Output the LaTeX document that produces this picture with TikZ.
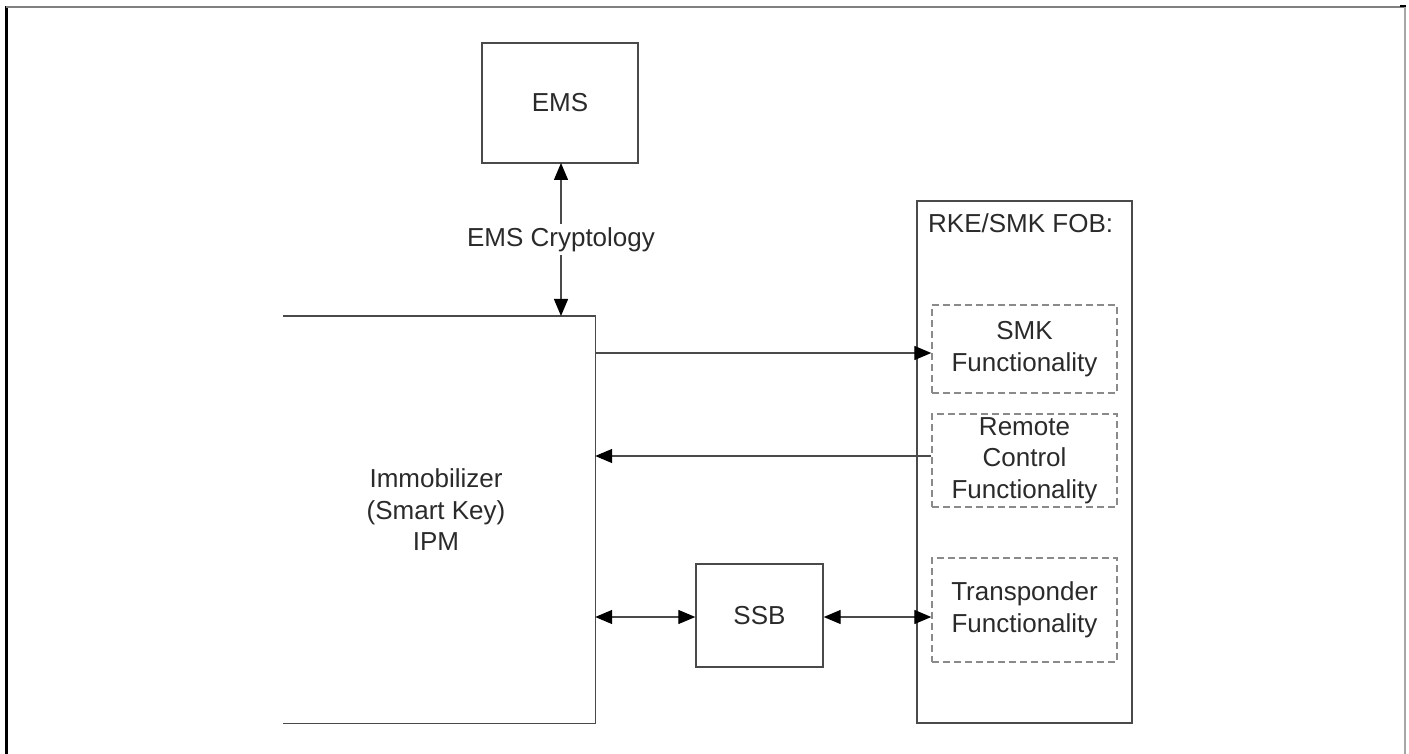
\documentclass[tikz,border=0pt]{standalone}
\usepackage{fontspec}
\setmainfont{Liberation Sans}
\usetikzlibrary{arrows.meta}
\definecolor{linecol}{HTML}{4A4A4A}
\definecolor{dashcol}{HTML}{8A8A8A}
\definecolor{txtcol}{HTML}{2A2A2A}
\begin{document}
\begin{tikzpicture}[x=1pt,y=-1pt,
  every node/.style={font=\fontsize{26}{31.5}\selectfont, text=txtcol, align=center},
  solidbox/.style={draw=linecol, line width=1.4pt, inner sep=0pt},
  dashbox/.style={draw=dashcol, line width=1.4pt, dash pattern=on 7pt off 4pt, inner sep=0pt},
  conn/.style={draw=linecol, line width=1.3pt},
  tip/.style={-{Triangle[length=17pt,width=14pt,fill=black,color=black]}},
  twotip/.style={{Triangle[length=17pt,width=14pt,fill=black,color=black]}-{Triangle[length=17pt,width=14pt,fill=black,color=black]}}]
\useasboundingbox (0,0) rectangle (1409,754);
% frame
\draw[black, line width=3pt] (6.5,6) -- (6.5,754);
\draw[gray, line width=1.8pt] (6,7) -- (1404,7);
\draw[gray!70, line width=1.8pt] (1405,7) -- (1405,754);
\draw[black, line width=2pt] (1400,6) -- (1406,6);
% EMS
\node[solidbox, minimum width=156pt, minimum height=120pt] (ems) at (560,103) {EMS};
% Immobilizer (open on left)
\node[minimum width=312pt, minimum height=407pt, inner sep=0pt] (imm) at (439,519.5) {};
\draw[linecol, line width=1.4pt] (imm.north west) -- (imm.north east) -- (imm.south east) -- (imm.south west);
\node (immtext) at (436,510) {Immobilizer\\(Smart Key)\\IPM};
% FOB
\node[solidbox, minimum width=215pt, minimum height=522pt] (fob) at (1024.5,462) {};
\node[anchor=north west, inner sep=0pt] (fobtitle) at (928,213) {RKE/SMK FOB:};
\node[dashbox, minimum width=185pt, minimum height=88pt] (smk) at (1024.5,349) {SMK\\Functionality};
\node[dashbox, minimum width=185pt, minimum height=93pt] (rc) at (1024.5,460.5) {Remote\\Control\\Functionality};
\node[dashbox, minimum width=185pt, minimum height=104pt] (tr) at (1024.5,610) {Transponder\\Functionality};
% SSB
\node[solidbox, minimum width=127pt, minimum height=103pt] (ssb) at (759.5,615.5) {SSB};
% connectors
\coordinate (emsA) at (561,163);
\coordinate (emsB) at (561,316);
\draw[conn, twotip] (emsA) -- node[fill=white, inner sep=3pt] (crypt) {EMS Cryptology} (emsB);
\draw[conn, tip] (imm.east |- 0,353) -- (smk.west |- 0,353);
\draw[conn, tip] (rc.west |- 0,456) -- (imm.east |- 0,456);
\draw[conn, twotip] (imm.east |- 0,617) -- (ssb.west |- 0,617);
\draw[conn, twotip] (ssb.east |- 0,617) -- (tr.west |- 0,617);
\end{tikzpicture}
\end{document}
